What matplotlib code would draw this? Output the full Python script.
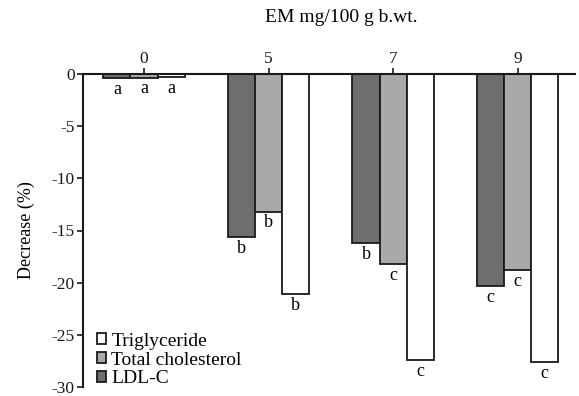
import matplotlib
matplotlib.use("Agg")
import matplotlib.pyplot as plt
import numpy as np

plt.rcParams['font.family'] = ['Liberation Serif', 'DejaVu Serif']

doses = ["0", "5", "7", "9"]
ldl_c = [-0.4, -15.6, -16.2, -20.3]
total_chol = [-0.35, -13.2, -18.2, -18.8]
triglyceride = [-0.3, -21.1, -27.4, -27.6]
ldl_letters = ["a", "b", "b", "c"]
tc_letters = ["a", "b", "c", "c"]
tg_letters = ["a", "b", "c", "c"]

W, H = 579, 396
fig = plt.figure(figsize=(W / 100, H / 100), dpi=100)
ax = fig.add_axes([83 / W, 1 - 387 / H, (575 - 83) / W, (387 - 74) / H])

x = np.arange(len(doses))
bw = 0.218
series = [
    (ldl_c, "#6e6e6e", "LDL-C", ldl_letters, -bw),
    (total_chol, "#a9a9a9", "Total cholesterol", tc_letters, 0.0),
    (triglyceride, "#ffffff", "Triglyceride", tg_letters, bw),
]
handles = {}
for vals, col, name, letters, off in series:
    bars = ax.bar(x + off, vals, width=bw, color=col, edgecolor="#1a1a1a",
                  linewidth=1.3, zorder=2)
    handles[name] = bars
    for xi, v, lt in zip(x, vals, letters):
        ax.annotate(lt, (xi + off, v), xytext=(0, -2), textcoords="offset points",
                    ha="center", va="top", fontsize=13)

ax.set_xlim(-0.49, 3.46)
ax.set_ylim(-30, 0)
ax.set_yticks([0, -5, -10, -15, -20, -25, -30])
ax.set_yticklabels(["0", "-5", "-10", "-15", "-20", "-25", "-30"])
ax.set_xticks(x)
ax.set_xticklabels(doses)
ax.xaxis.tick_top()
ax.tick_params(axis="both", direction="out", length=4, width=1.2, labelsize=12.5,
               colors="#1a1a1a")
ax.tick_params(axis="x", pad=1)
ax.tick_params(axis="y", pad=2)
for s in ["right", "bottom"]:
    ax.spines[s].set_visible(False)
for s in ["top", "left"]:
    ax.spines[s].set_linewidth(1.5)
    ax.spines[s].set_color("#1a1a1a")
ax.spines["top"].set_zorder(3)

ax.set_ylabel("Decrease (%)", fontsize=13, labelpad=12)

leg = ax.legend([handles["Triglyceride"], handles["Total cholesterol"], handles["LDL-C"]],
                ["Triglyceride", "Total cholesterol", "LDL-C"],
                loc="lower left", bbox_to_anchor=(0.0, -0.045), frameon=False,
                fontsize=14, handlelength=0.5, handleheight=0.5, handletextpad=0.25,
                labelspacing=0.1, borderaxespad=0.3)

fig.text(341 / W, 1 - 17 / H, "EM mg/100 g b.wt.", ha="center", va="center", fontsize=14)

fig.savefig("out.png", dpi=100)
